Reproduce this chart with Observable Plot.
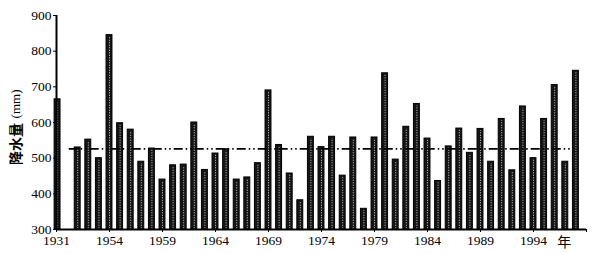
<!DOCTYPE html>
<html>
<head>
<meta charset="utf-8">
<script src="https://cdn.jsdelivr.net/npm/d3@7"></script>
<script src="https://cdn.jsdelivr.net/npm/@observablehq/plot@0.6"></script>
<style>
  html, body { margin: 0; padding: 0; background: #fff; }
</style>
</head>
<body>
<div id="chart"></div>
<script>
const years = [1931,
  1951, 1952, 1953, 1954, 1955, 1956, 1957, 1958, 1959, 1960,
  1961, 1962, 1963, 1964, 1965, 1966, 1967, 1968, 1969, 1970,
  1971, 1972, 1973, 1974, 1975, 1976, 1977, 1978, 1979, 1980,
  1981, 1982, 1983, 1984, 1985, 1986, 1987, 1988, 1989, 1990,
  1991, 1992, 1993, 1994, 1995, 1996, 1997, 1998];
const precip = [665,
  530, 552, 500, 845, 598, 580, 490, 527, 440, 480,
  482, 600, 467, 513, 525, 440, 446, 486, 690, 537,
  457, 382, 560, 531, 560, 451, 558, 358, 558, 738,
  496, 588, 652, 555, 436, 533, 583, 515, 582, 490,
  610, 466, 645, 500, 610, 705, 490, 745];
const meanPrecip = 526;
const xTickYears = [1931, 1954, 1959, 1964, 1969, 1974, 1979, 1984, 1989, 1994];
const yTicks = [300, 400, 500, 600, 700, 800, 900];
const yLabelMain = "降水量";
const yLabelUnit = "(mm)";
const xUnit = "年";

// broken axis: 1931 is drawn right at the axis origin (slot 1949), then 1951 onward
const slot = y => (y === 1931 ? 1949 : y);
const data = years.map((y, i) => ({year: y, p: slot(y) + (y === 1931 ? 0.1 : 0), v: precip[i]}));

const serif = "'Liberation Serif', 'Times New Roman', 'Noto Sans CJK SC', serif";

const chart = Plot.plot({
  width: 596,
  height: 253,
  marginLeft: 56,
  marginRight: 10,
  marginTop: 15,
  marginBottom: 24,
  x: {type: "linear", domain: [1949, 1999], axis: null, label: null},
  y: {domain: [300, 900], axis: null, label: null},
  style: {fontFamily: serif, fontSize: "13px", background: "white", color: "black"},
  marks: [
    Plot.rect(data, {x1: d => d.p - 0.28, x2: d => d.p + 0.28, y1: 300, y2: "v", fill: "#151515", stroke: "#000", strokeWidth: 1}),
    Plot.ruleX(data, {x: "p", y1: 302, y2: d => d.v - 5, stroke: "#d0d0d0", strokeWidth: 1, strokeDasharray: "1,1.5"}),
    Plot.ruleY([meanPrecip], {x1: 1950.2, x2: 1997.7, stroke: "#000", strokeWidth: 1.6, strokeDasharray: "9,3,1.5,3,1.5,3"}),
    Plot.ruleX([1949], {y1: 300, y2: 900, stroke: "#000", strokeWidth: 2}),
    Plot.ruleY([300], {x1: 1949, x2: 1999, stroke: "#000", strokeWidth: 2}),
    Plot.axisY({ticks: yTicks, label: null, tickSize: 3, tickPadding: 2, tickFormat: d => String(d), fontSize: 13.5, stroke: "#000"}),
    Plot.axisX({ticks: xTickYears.map(slot).concat([1999]), label: null, tickSize: 3, tickPadding: 3,
      tickFormat: d => (d === 1949 ? "1931" : d === 1999 ? "" : String(d)), fontSize: 13.5, stroke: "#000"}),
    Plot.text([xUnit], {x: 1996.9, y: 300, dy: 13, fontFamily: "'Noto Sans CJK SC', sans-serif", fontSize: 14}),
    Plot.text([yLabelMain], {x: 1945.2, y: 540, rotate: -90, fontFamily: "'Noto Sans CJK SC', sans-serif", fontWeight: "bold", fontSize: 14}),
    Plot.text([yLabelUnit], {x: 1945.2, y: 652, rotate: -90, fontFamily: serif, fontSize: 13})
  ]
});
document.getElementById("chart").appendChild(chart);
</script>
</body>
</html>
